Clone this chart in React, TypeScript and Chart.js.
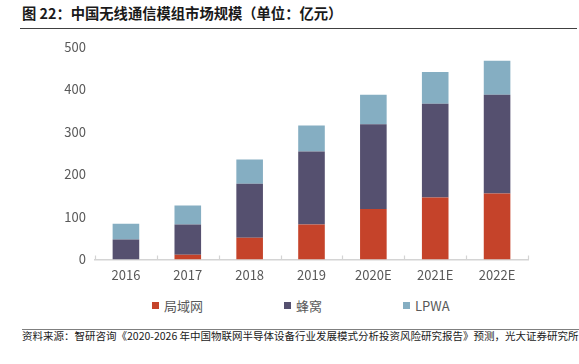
import React, { useEffect, useRef } from "react";
import { Chart, registerables } from "chart.js";

Chart.register(...registerables);

const categories = ["2016", "2017", "2018", "2019", "2020E", "2021E", "2022E"];
const lanValues = [0, 11, 51, 82, 119, 146, 155];
const cellularValues = [47, 71, 127, 172, 199, 220, 232];
const lpwaValues = [37, 45, 57, 61, 69, 75, 80];
const seriesNames = ["局域网", "蜂窝", "LPWA"];
const seriesColors = ["#C5432A", "#55506F", "#85AEC2"];
const yTicks = [0, 100, 200, 300, 400, 500];

const titleText = "图 22：中国无线通信模组市场规模（单位：亿元）";
const sourceText =
  "资料来源：智研咨询《2020-2026 年中国物联网半导体设备行业发展模式分析投资风险研究报告》预测，光大证券研究所";

const FONT = "'Noto Sans CJK SC', 'Noto Sans', sans-serif";

const tickMarkPlugin = {
  id: "upTicks",
  afterDraw(chart: any) {
    const xs = chart.scales.x;
    const ctx = chart.ctx;
    const n = chart.data.labels.length;
    const half = (xs.getPixelForValue(1) - xs.getPixelForValue(0)) / 2;
    ctx.save();
    ctx.strokeStyle = "#d4d4d4";
    ctx.lineWidth = 1.2;
    for (let i = 0; i <= n; i++) {
      const x = Math.round(xs.getPixelForValue(i) - half) + 0.5;
      ctx.beginPath();
      ctx.moveTo(x, xs.top - 4);
      ctx.lineTo(x, xs.top);
      ctx.stroke();
    }
    ctx.restore();
  },
};

export default function App() {
  const ref = useRef<HTMLCanvasElement>(null);
  useEffect(() => {
    const values = [lanValues, cellularValues, lpwaValues];
    const chart = new Chart(ref.current as HTMLCanvasElement, {
      type: "bar",
      data: {
        labels: categories,
        datasets: seriesNames.map((name, i) => ({
          label: name,
          data: values[i],
          backgroundColor: seriesColors[i],
          borderWidth: 0,
          barPercentage: 0.43,
          categoryPercentage: 1,
        })),
      },
      options: {
        animation: false,
        responsive: false,
        maintainAspectRatio: false,
        layout: { padding: { left: 0, right: 51, top: 15, bottom: 0 } },
        plugins: { legend: { display: false }, tooltip: { enabled: false } },
        scales: {
          x: {
            stacked: true,
            grid: { display: false, drawTicks: false },
            border: { display: true, color: "#d4d4d4", width: 1.5 },
            ticks: { color: "#595959", font: { family: FONT, size: 13 }, padding: 8 },
            afterFit: (s: any) => {
              s.height = 30.5;
            },
          },
          y: {
            stacked: true,
            min: 0,
            max: 500,
            grid: { display: false, drawTicks: false },
            border: { display: false },
            afterBuildTicks: (s: any) => {
              s.ticks = yTicks.map((v) => ({ value: v }));
            },
            ticks: { color: "#595959", font: { family: FONT, size: 13 }, padding: 9 },
            afterFit: (s: any) => {
              s.width = 95;
            },
          },
        },
      },
      plugins: [tickMarkPlugin],
    });
    return () => chart.destroy();
  }, []);

  const legendX = [152, 284, 403];

  return (
    <div style={{ position: "absolute", left: 0, top: 0, width: 579, height: 364, background: "#fff", fontFamily: FONT }}>
      <div
        style={{
          position: "absolute",
          left: 22,
          top: 3,
          fontSize: 14.3,
          lineHeight: "20px",
          fontWeight: "bold",
          color: "#1a1a1a",
          whiteSpace: "nowrap",
        }}
      >
        {titleText}
      </div>
      <div style={{ position: "absolute", left: 20, top: 28, width: 557, height: 1, background: "#404040" }} />
      <canvas ref={ref} width={579} height={260} style={{ position: "absolute", left: 0, top: 30, width: 579, height: 260 }} />
      {seriesNames.map((name, i) => (
        <div
          key={name}
          style={{
            position: "absolute",
            left: legendX[i],
            top: 297,
            height: 17,
            display: "flex",
            alignItems: "center",
            whiteSpace: "nowrap",
          }}
        >
          <span style={{ display: "inline-block", width: 7, height: 7, background: seriesColors[i], marginRight: 5 }} />
          <span style={{ fontSize: 13, color: "#595959", lineHeight: "17px" }}>{name}</span>
        </div>
      ))}
      <div style={{ position: "absolute", left: 22, top: 329, width: 557, height: 1, background: "#7f7f7f" }} />
      <div
        style={{
          position: "absolute",
          left: 22,
          top: 329,
          fontSize: 10.5,
          lineHeight: "14px",
          color: "#1a1a1a",
          whiteSpace: "nowrap",
        }}
      >
        {sourceText}
      </div>
    </div>
  );
}
